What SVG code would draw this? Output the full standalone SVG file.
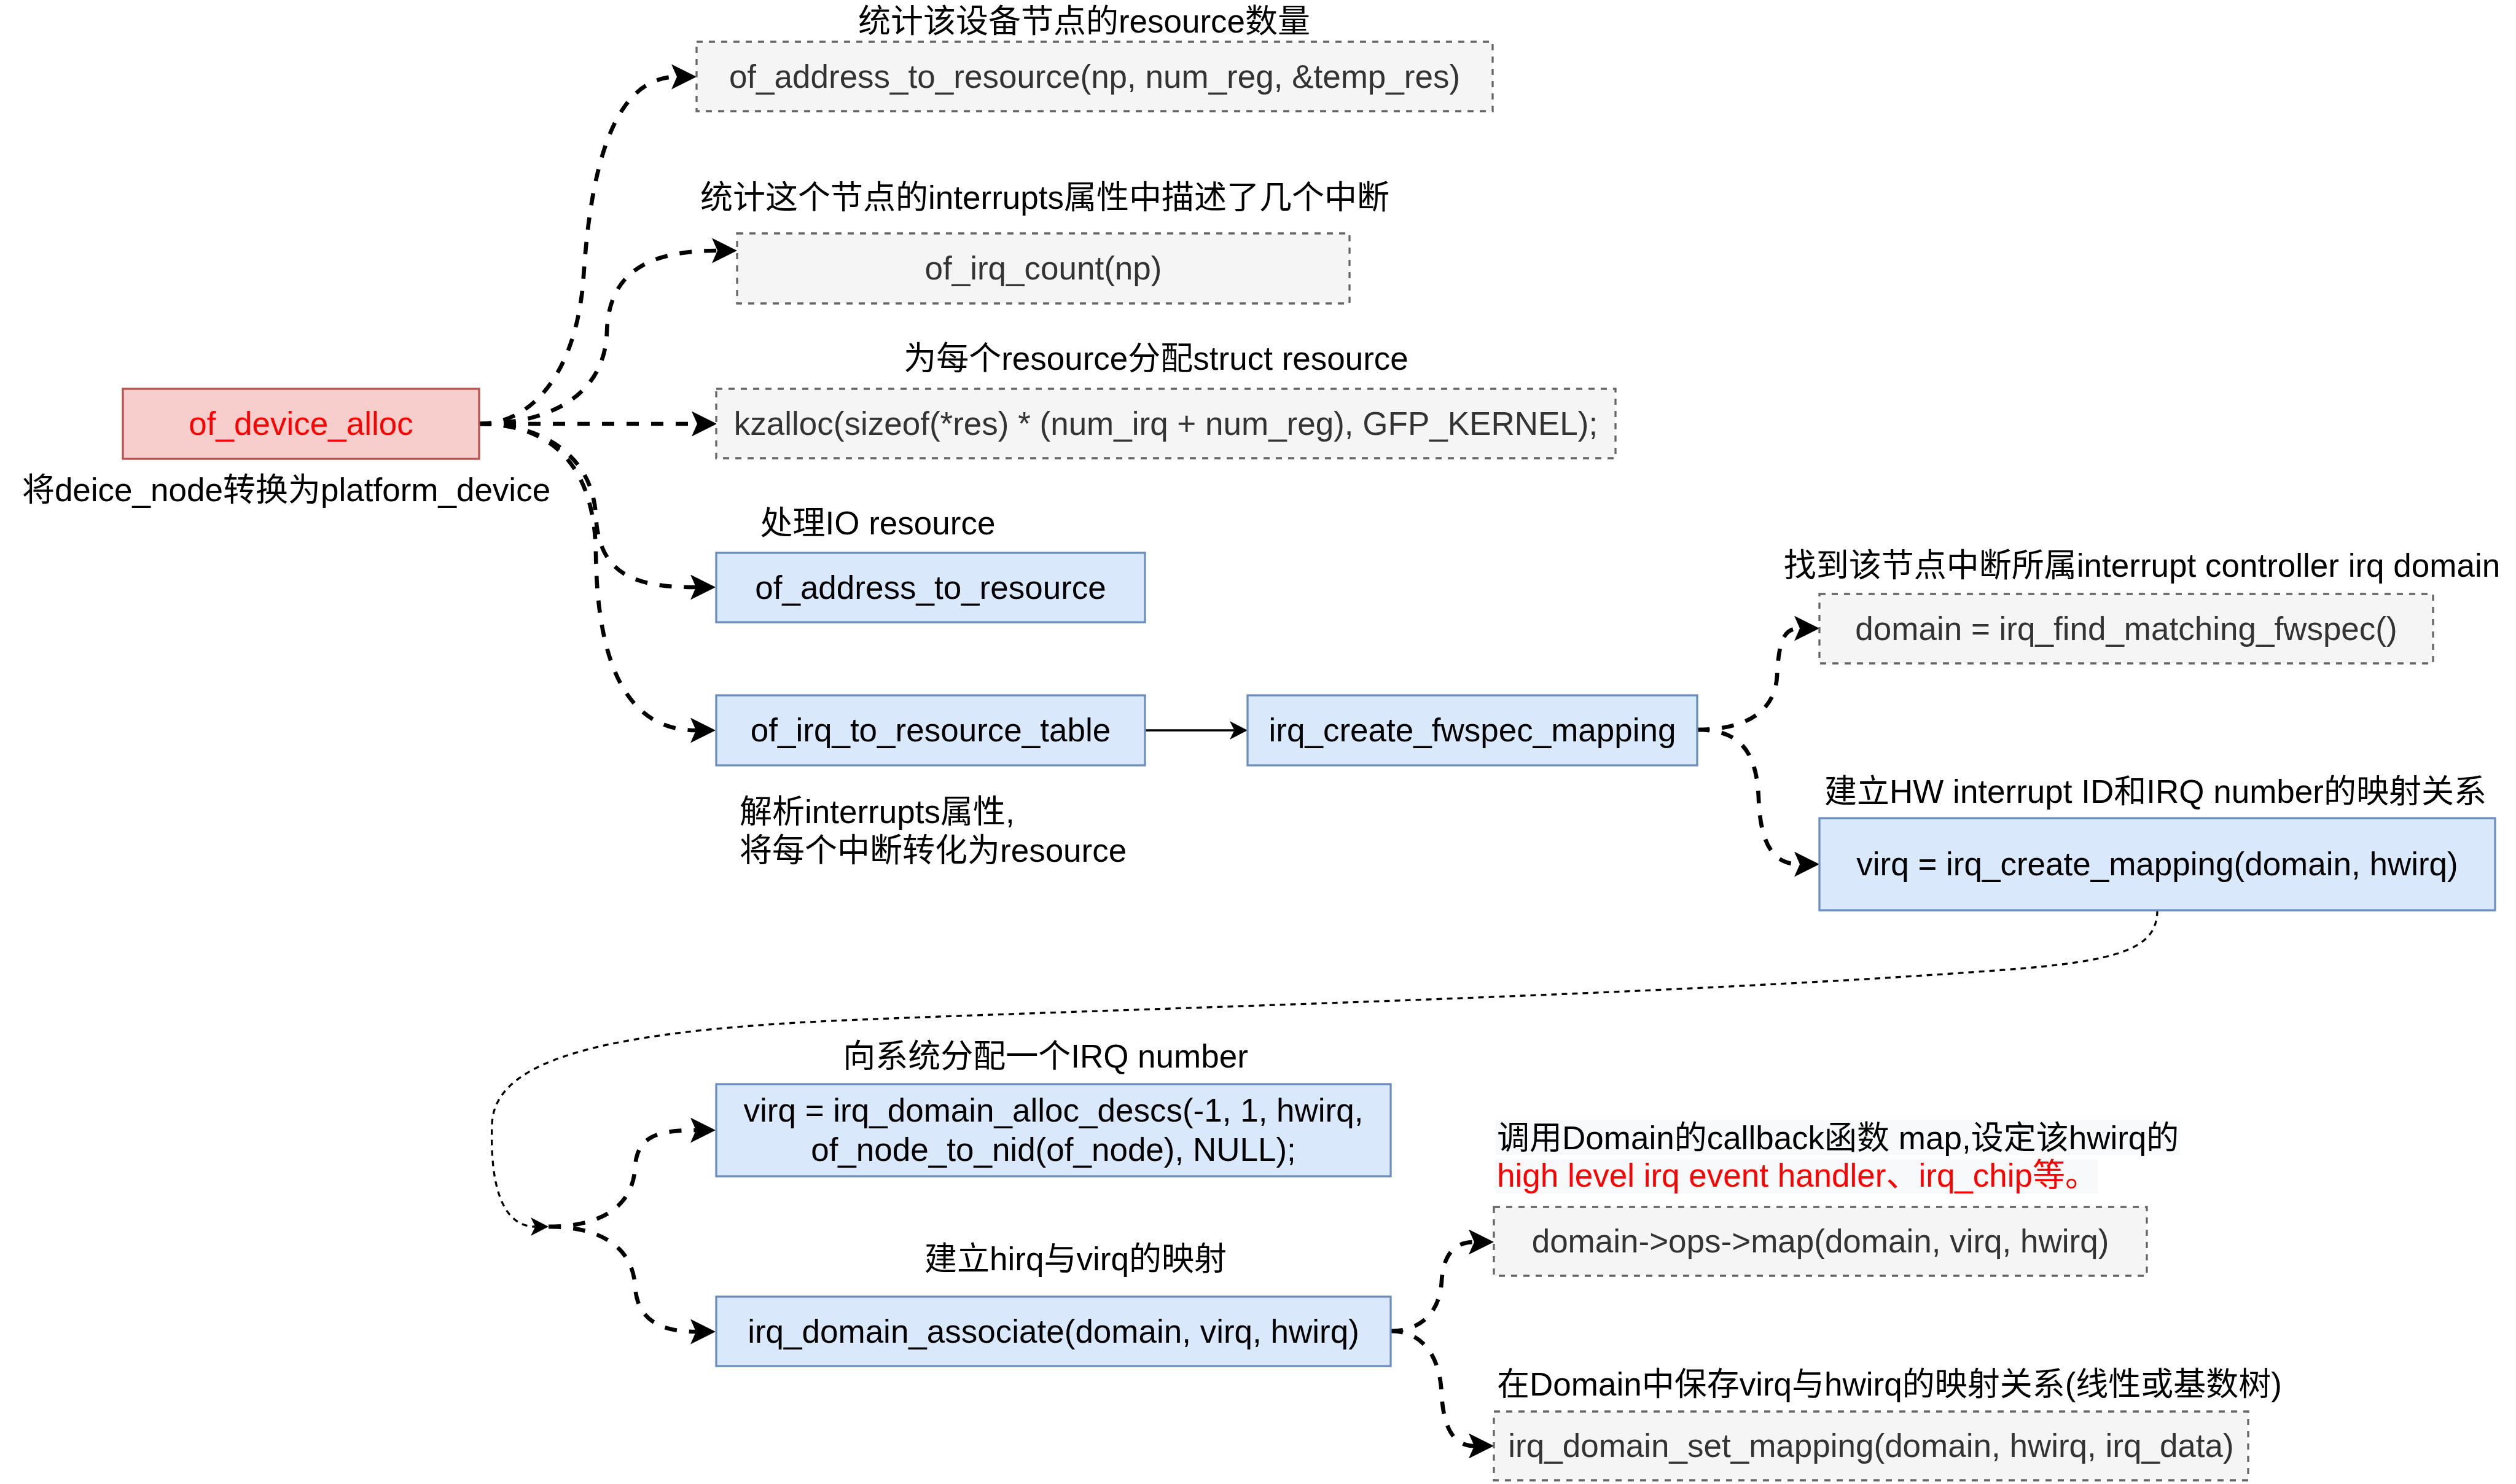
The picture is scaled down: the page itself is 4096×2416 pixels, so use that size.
<svg xmlns="http://www.w3.org/2000/svg" width="4096" height="2416" viewBox="0 0 4096 2416">
<defs>
<style>
text{font-family:"Liberation Sans","Noto Sans CJK SC",sans-serif;font-size:53px;fill:#000}
.c{text-anchor:middle}
.red{fill:#ff0000}
.g{fill:#333333}
.rn{fill:#f8cecc;stroke:#b85450;stroke-width:3.3}
.bn{fill:#dae8fc;stroke:#6c8ebf;stroke-width:3.3}
.gn{fill:#f5f5f5;stroke:#666666;stroke-width:3.3;stroke-dasharray:10 10}
.thick{fill:none;stroke:#000;stroke-width:6.65;stroke-dasharray:20 20;marker-end:url(#ab)}
.thin{fill:none;stroke:#000;stroke-width:3.3;marker-end:url(#as)}
.dot{stroke-dasharray:9 8}
.lbg{fill:#f8f9fa}
</style>
<marker id="ab" markerUnits="userSpaceOnUse" viewBox="0 0 41 41" markerWidth="41" markerHeight="41" refX="9" refY="20.5" orient="auto"><path d="M0,0 L41,20.5 L0,41 L9,20.5 Z" fill="#000"/></marker>
<marker id="as" markerUnits="userSpaceOnUse" viewBox="0 0 29 30" markerWidth="29" markerHeight="30" refX="7.5" refY="15" orient="auto"><path d="M0,0 L29,15 L0,30 L7.5,15 Z" fill="#000"/></marker>
</defs>
<rect width="4096" height="2416" fill="#ffffff"/>

<g id="connectors">
<path class="thick" d="M780,690 C870,690 940,600 950,450 C960,300 990,125 1102,125"/>
<path class="thick" d="M780,690 C900,690 985,640 988,540 C991,440 1060,408 1168,408"/>
<path class="thick" d="M780,690 L1135,690"/>
<path class="thick" d="M780,690 C880,690 965,740 970,840 C975,940 1040,956 1133,956"/>
<path class="thick" d="M780,690 C900,690 968,760 970,900 C972,1080 1020,1189 1133,1189"/>
<path class="thin" d="M1864,1189 L2009.5,1189"/>
<path class="thick" d="M2763,1188 C2840,1188 2890,1160 2893,1100 C2896,1040 2905,1023 2930,1023"/>
<path class="thick" d="M2763,1188 C2830,1188 2860,1220 2863,1300 C2866,1380 2890,1407 2930,1407"/>
<path class="thin dot" d="M3512,1482 C3512,1545 3450,1565 3262,1579 C2700,1621 1900,1640 1400,1660 C1000,1676 805,1720 801,1830 C798,1910 810,1997 871.5,1997"/>
<path class="thick" d="M893,1997 C970,1997 1030,1970 1034,1900 C1037,1850 1070,1840 1133,1840"/>
<path class="thick" d="M893,1997 C970,1997 1030,2025 1034,2095 C1037,2145 1070,2168 1133,2168"/>
<path class="thick" d="M2264,2167 C2310,2167 2344,2140 2347,2085 C2350,2040 2370,2022 2400,2022"/>
<path class="thick" d="M2264,2167 C2310,2167 2344,2200 2347,2270 C2350,2330 2370,2354 2400,2354"/>
</g>

<g id="n1"><rect class="rn" x="200" y="633" width="580" height="114"/><text class="c red" x="490" y="708">of_device_alloc</text></g>
<g id="n2"><rect class="gn" x="1134" y="68" width="1296" height="113"/><text class="c g" x="1782" y="143">of_address_to_resource(np, num_reg, &amp;temp_res)</text></g>
<g id="n3"><rect class="gn" x="1200" y="380" width="997" height="114"/><text class="c g" x="1698.5" y="455">of_irq_count(np)</text></g>
<g id="n4"><rect class="gn" x="1166" y="633" width="1464" height="113"/><text class="c g" x="1898" y="708">kzalloc(sizeof(*res) * (num_irq + num_reg), GFP_KERNEL);</text></g>
<g id="n5"><rect class="bn" x="1166" y="900" width="698" height="113"/><text class="c" x="1515" y="975">of_address_to_resource</text></g>
<g id="n6"><rect class="bn" x="1166" y="1132" width="698" height="114"/><text class="c" x="1515" y="1207">of_irq_to_resource_table</text></g>
<g id="n7"><rect class="bn" x="2031" y="1132" width="732" height="114"/><text class="c" x="2397" y="1207">irq_create_fwspec_mapping</text></g>
<g id="n8"><rect class="gn" x="2962" y="967" width="999" height="113"/><text class="c g" x="3461.5" y="1042">domain = irq_find_matching_fwspec()</text></g>
<g id="n9"><rect class="bn" x="2962" y="1332" width="1100" height="150"/><text class="c" x="3512" y="1425">virq = irq_create_mapping(domain, hwirq)</text></g>
<g id="n10"><rect class="bn" x="1166" y="1765" width="1098" height="150"/><text class="c" x="1715" y="1826">virq = irq_domain_alloc_descs(-1, 1, hwirq,</text><text class="c" x="1715" y="1890">of_node_to_nid(of_node), NULL);</text></g>
<g id="n11"><rect class="bn" x="1166" y="2111" width="1098" height="113"/><text class="c" x="1715" y="2186">irq_domain_associate(domain, virq, hwirq)</text></g>
<g id="n12"><rect class="gn" x="2432" y="1965" width="1063" height="112"/><text class="c g" x="2963.5" y="2039">domain-&gt;ops-&gt;map(domain, virq, hwirq)</text></g>
<g id="n13"><rect class="gn" x="2432" y="2298" width="1228" height="112"/><text class="c g" x="3046" y="2372">irq_domain_set_mapping(domain, hwirq, irq_data)</text></g>

<g id="labels">
<text class="c" x="1765" y="53">统计该设备节点的resource数量</text>
<text class="c" x="1701" y="340">统计这个节点的interrupts属性中描述了几个中断</text>
<text class="c" x="1882" y="602">为每个resource分配struct resource</text>
<text class="c" x="466" y="816">将deice_node转换为platform_device</text>
<text class="c" x="1429" y="870">处理IO resource</text>
<text x="1204" y="1340">解析interrupts属性,</text>
<text x="1204" y="1403">将每个中断转化为resource</text>
<text class="c" x="3487" y="939">找到该节点中断所属interrupt controller irq domain</text>
<text class="c" x="3509" y="1307">建立HW interrupt ID和IRQ number的映射关系</text>
<text class="c" x="1702" y="1738">向系统分配一个IRQ number</text>
<text class="c" x="1751" y="2068">建立hirq与virq的映射</text>
<rect class="lbg" x="2435" y="1823" width="1114" height="57"/>
<rect class="lbg" x="2435" y="1887" width="981" height="56"/>
<text x="2437" y="1871">调用Domain的callback函数 map,设定该hwirq的</text>
<text class="red" x="2437" y="1932">high level irq event handler、irq_chip等。</text>
<text x="2437" y="2272">在Domain中保存virq与hwirq的映射关系(线性或基数树)</text>
</g>
</svg>
